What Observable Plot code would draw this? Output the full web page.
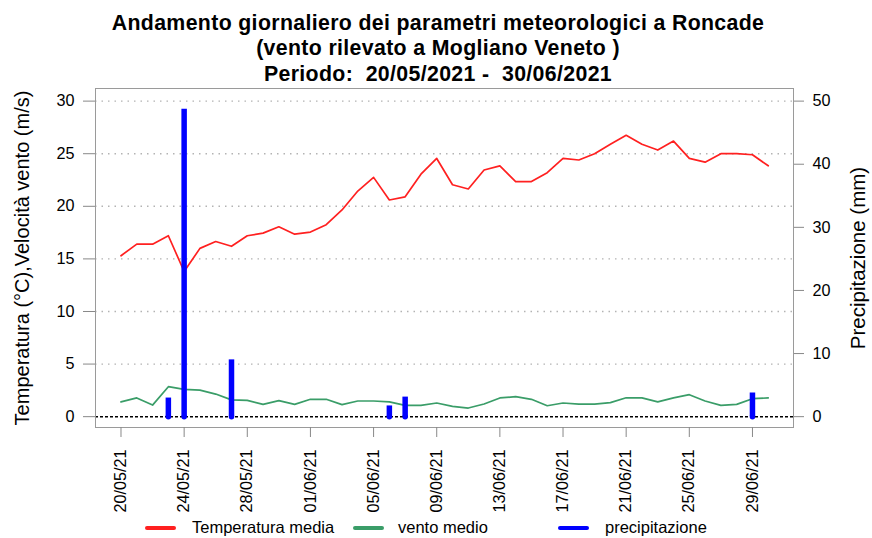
<!DOCTYPE html>
<html><head><meta charset="utf-8">
<script src="https://cdn.jsdelivr.net/npm/d3@7"></script>
<script src="https://cdn.jsdelivr.net/npm/@observablehq/plot@0.6"></script>
<style>
body{margin:0;background:#fff;font-family:"Liberation Sans",Arial,sans-serif;}
#wrap{position:relative;width:872px;height:538px;overflow:hidden;background:#fff;}
#title{position:absolute;z-index:2;left:2px;top:10.5px;width:872px;text-align:center;font-weight:bold;font-size:21.3px;letter-spacing:0.35px;line-height:25.5px;color:#000;}
#chart{position:absolute;z-index:1;left:0;top:78px;}
.li{position:absolute;top:517px;height:20px;font-size:16.5px;line-height:20px;color:#000;}
.sw{position:absolute;top:9px;height:4px;border-radius:2px;}
</style></head>
<body><div id="wrap">
<div id="title">Andamento giornaliero dei parametri meteorologici a Roncade<br>(vento rilevato a Mogliano Veneto )<br>Periodo:&nbsp; 20/05/2021 -&nbsp; 30/06/2021</div>
<div id="chart"></div>
<div id="legend"></div>
</div>
<script>
const startDate = "2021-05-20";
const temperatura = [15.3,16.4,16.4,17.2,13.8,16.0,16.65,16.2,17.2,17.45,18.05,17.35,17.55,18.25,19.65,21.45,22.75,20.6,20.9,23.05,24.55,22.05,21.65,23.45,23.85,22.35,22.35,23.2,24.55,24.4,25.0,25.9,26.75,25.9,25.35,26.2,24.55,24.2,25.0,25.0,24.9,23.85];
const vento = [1.4,1.78,1.1,2.85,2.6,2.53,2.15,1.6,1.55,1.17,1.52,1.17,1.65,1.65,1.14,1.49,1.49,1.4,1.08,1.08,1.3,0.98,0.82,1.2,1.78,1.9,1.65,1.04,1.3,1.2,1.2,1.33,1.8,1.78,1.4,1.78,2.09,1.49,1.08,1.17,1.71,1.78];
const precipitazione = [0,0,0,2.95,48.7,0,0,9.0,0,0,0,0,0,0,0,0,0,1.7,3.1,0,0,0,0,0,0,0,0,0,0,0,0,0,0,0,0,0,0,0,0,0,3.75,0];
const leftTicks = [0,5,10,15,20,25,30];
const rightTicks = [0,10,20,30,40,50];
const gridVals = [5,10,15,20,25,30];
const xTickLabels = ["20/05/21","24/05/21","28/05/21","01/06/21","05/06/21","09/06/21","13/06/21","17/06/21","21/06/21","25/06/21","29/06/21"];
const legendItems = [
  {label:"Temperatura media", color:"#ff2020"},
  {label:"vento medio", color:"#3a9d68"},
  {label:"precipitazione", color:"#0000ff"}
];
const ratio = 30/50; // precip mm -> left axis units

const t0 = new Date(startDate + "T00:00:00Z");
const rows = temperatura.map((t,i)=>({date:d3.utcDay.offset(t0,i), t, w:vento[i], p:precipitazione[i]}));
const rain = rows.filter(d=>d.p>0);
const parseLab = d3.utcParse("%d/%m/%y");
const xTicks = xTickLabels.map(parseLab);
const day = 864e5;

const chart = Plot.plot({
  width:872, height:431,
  marginTop:10, marginBottom:82, marginLeft:95, marginRight:79,
  style:{fontFamily:"'Liberation Sans', Arial, sans-serif", fontSize:"16.2px", background:"transparent", color:"#000", overflow:"visible"},
  x:{type:"utc", domain:[new Date(+t0 - 1.615*day), new Date(+d3.utcDay.offset(t0,40) + 2.6*day)]},
  y:{domain:[-1.03,31.2]},
  marks:[
    Plot.ruleY(gridVals,{stroke:"#b3b3b3", strokeDasharray:"1.5,5", strokeWidth:1.4}),
    Plot.line(rows,{x:"date", y:"t", stroke:"#ff2020", strokeWidth:1.7}),
    Plot.line(rows,{x:"date", y:"w", stroke:"#3a9d68", strokeWidth:1.7}),
    Plot.ruleY([0],{stroke:"#000", strokeDasharray:"3,2", strokeWidth:1.5}),
    Plot.ruleX(rain,{x:"date", y1:0, y2:d=>d.p*ratio, stroke:"#0000ff", strokeWidth:5.5}),
    Plot.dot(rain,{x:"date", y:0, r:2.75, fill:"#0000ff"}),
    Plot.frame({stroke:"#9a9a9a"}),
    Plot.axisY({anchor:"left", ticks:leftTicks, tickSize:12, tickPadding:9, label:null, stroke:"#888", fill:"#000"}),
    Plot.axisY({anchor:"right", ticks:rightTicks.map(v=>v*ratio), tickFormat:v=>String(Math.round(v/ratio)), tickSize:10, tickPadding:9, label:null, stroke:"#888", fill:"#000"}),
    Plot.axisX({ticks:xTicks, tickFormat:d3.utcFormat("%d/%m/%y"), tickSize:10, tickPadding:12, tickRotate:-90, label:null, stroke:"#888", fill:"#000"}),
    Plot.text(["Temperatura (°C),Velocità vento (m/s)"],{frameAnchor:"left", dx:-73, rotate:-90, textAnchor:"middle", lineAnchor:"middle", fontSize:20, fill:"#000"}),
    Plot.text(["Precipitazione (mm)"],{frameAnchor:"right", dx:65, rotate:-90, textAnchor:"middle", lineAnchor:"middle", fontSize:20.5, fill:"#000"})
  ]
});
document.getElementById("chart").appendChild(chart);

const pos = [{sw:145, tx:192},{sw:353, tx:398},{sw:558, tx:605}];
const leg = document.getElementById("legend");
legendItems.forEach((it,i)=>{
  const s = document.createElement("div");
  s.className="li"; s.style.left=pos[i].sw+"px";
  s.innerHTML = `<div class="sw" style="left:0;width:31px;background:${it.color}"></div><span style="position:absolute;left:${pos[i].tx-pos[i].sw}px;white-space:nowrap">${it.label}</span>`;
  leg.appendChild(s);
});
</script>
</body></html>
